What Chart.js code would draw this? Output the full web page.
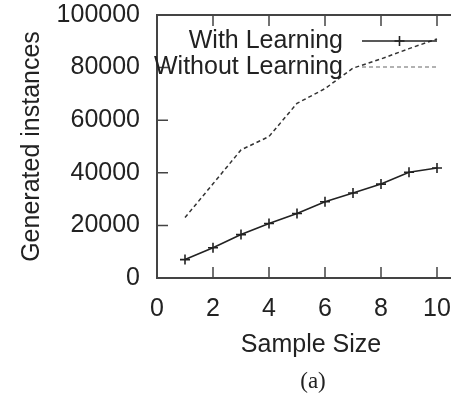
<!DOCTYPE html>
<html>
<head>
<meta charset="utf-8">
<script src="https://cdn.jsdelivr.net/npm/chart.js@4/dist/chart.umd.min.js"></script>
<style>
  html, body { margin: 0; padding: 0; background: #fff; overflow: hidden; }
  #wrap { width: 480px; height: 395px; position: relative; }
</style>
</head>
<body>
<div id="wrap"><canvas id="chart"></canvas></div>
<script>
// ── Data ──────────────────────────────────────────────────────────────────────
const sampleSizes      = [1, 2, 3, 4, 5, 6, 7, 8, 9, 10];
const withLearning     = [7000, 11500, 16500, 20700, 24500, 29000, 32300, 35700, 40200, 41800];
const withoutLearning  = [23000, 35800, 48700, 53800, 66400, 72000, 79800, 83300, 87200, 90900];
const seriesLabels     = ["With Learning", "Without Learning"];
const xTitle           = "Sample Size";
const yTitle           = "Generated instances";
const caption          = "(a)";

const FONT      = "Liberation Sans";
const FONT_SIZE = 25;
const INK       = "#222";
const TICK_LEN  = 11;

// ── Plot frame with inward ticks (gnuplot style, mirrored on top/right) ───────
const framePlugin = {
  id: "frame",
  afterDatasetsDraw(chart) {
    const { ctx, chartArea: a, scales: { x, y } } = chart;
    ctx.save();
    ctx.strokeStyle = "#444";
    ctx.lineWidth = 2;
    ctx.strokeRect(a.left, a.top, a.right - a.left, a.bottom - a.top);
    ctx.lineWidth = 1.5;
    ctx.beginPath();
    x.ticks.forEach(t => {
      const px = x.getPixelForValue(t.value);
      ctx.moveTo(px, a.bottom); ctx.lineTo(px, a.bottom - TICK_LEN);
      ctx.moveTo(px, a.top);    ctx.lineTo(px, a.top + TICK_LEN);
    });
    y.ticks.forEach(t => {
      const py = y.getPixelForValue(t.value);
      ctx.moveTo(a.left, py);  ctx.lineTo(a.left + TICK_LEN, py);
      ctx.moveTo(a.right, py); ctx.lineTo(a.right - TICK_LEN, py);
    });
    ctx.stroke();
    ctx.restore();
  },
};

// ── Key: right-aligned text with a line sample to its right ──────────────────
const keyPlugin = {
  id: "key",
  afterDatasetsDraw(chart) {
    const { ctx } = chart;
    const textRight = 343, x0 = 362, x1 = 437;
    ctx.save();
    chart.data.datasets.forEach((ds, i) => {
      const yy = 41 + i * 26;
      ctx.font = `${FONT_SIZE}px "${FONT}"`;
      ctx.fillStyle = INK;
      ctx.textAlign = "right";
      ctx.textBaseline = "middle";
      ctx.fillText(ds.label, textRight, yy);

      ctx.strokeStyle = ds.keyColor || ds.borderColor;
      ctx.lineWidth = ds.borderWidth;
      ctx.setLineDash(ds.borderDash || []);
      ctx.beginPath();
      ctx.moveTo(x0, yy); ctx.lineTo(x1, yy);
      ctx.stroke();
      ctx.setLineDash([]);
      if (ds.pointStyle === "cross") {
        const cx = (x0 + x1) / 2, r = ds.pointRadius;
        ctx.beginPath();
        ctx.moveTo(cx - r, yy); ctx.lineTo(cx + r, yy);
        ctx.moveTo(cx, yy - r); ctx.lineTo(cx, yy + r);
        ctx.stroke();
      }
    });
    ctx.restore();
  },
};

// ── Caption under the x-axis title ───────────────────────────────────────────
const captionPlugin = {
  id: "caption",
  afterDraw(chart) {
    const { ctx, chartArea: a } = chart;
    ctx.save();
    ctx.font = `23px "Liberation Serif"`;
    ctx.fillStyle = INK;
    ctx.textAlign = "center";
    ctx.textBaseline = "middle";
    ctx.fillText(caption, (a.left + a.right) / 2 + 2, 382);
    ctx.restore();
  },
};

new Chart(document.getElementById("chart"), {
  type: "line",
  data: {
    datasets: [
      {
        label: seriesLabels[0],
        data: sampleSizes.map((s, i) => ({ x: s, y: withLearning[i] })),
        borderColor: "#222",
        borderWidth: 1.6,
        pointStyle: "cross",
        pointRadius: 5,
        pointBorderColor: "#222",
        pointBorderWidth: 1.6,
        tension: 0,
        fill: false,
      },
      {
        label: seriesLabels[1],
        data: sampleSizes.map((s, i) => ({ x: s, y: withoutLearning[i] })),
        borderColor: "#333",
        keyColor: "#999",
        borderWidth: 1.5,
        borderDash: [4, 3],
        pointRadius: 0,
        tension: 0,
        fill: false,
      },
    ],
  },
  options: {
    responsive: true,
    maintainAspectRatio: false,
    animation: false,
    events: [],
    layout: { padding: { left: 0, top: 0, right: 15, bottom: 0 } },
    plugins: {
      legend:  { display: false },
      tooltip: { enabled: false },
    },
    scales: {
      x: {
        type: "linear",
        min: 0,
        max: 11,
        border: { display: false },
        grid: { display: false, drawTicks: false },
        ticks: {
          stepSize: 2,
          includeBounds: false,
          padding: 16,
          color: INK,
          font: { family: FONT, size: FONT_SIZE },
          maxRotation: 0,
        },
        title: {
          display: true,
          text: xTitle,
          color: INK,
          font: { family: FONT, size: FONT_SIZE },
          padding: { top: 0, bottom: 35 },
        },
        afterFit(scale) { scale.height = 395 - 278; },
      },
      y: {
        min: 0,
        max: 100000,
        border: { display: false },
        grid: { display: false, drawTicks: false },
        ticks: {
          stepSize: 20000,
          padding: 17,
          color: INK,
          font: { family: FONT, size: FONT_SIZE },
          callback: v => String(v),
        },
        title: {
          display: true,
          text: yTitle,
          color: INK,
          font: { family: FONT, size: FONT_SIZE },
          padding: { top: 17, bottom: 0 },
        },
        // fixed gutter; keep the top label's room without the tick padding
        afterFit(scale) { scale.width = 157; scale.paddingTop = 15; },
      },
    },
  },
  plugins: [framePlugin, keyPlugin, captionPlugin],
});
</script>
</body>
</html>
